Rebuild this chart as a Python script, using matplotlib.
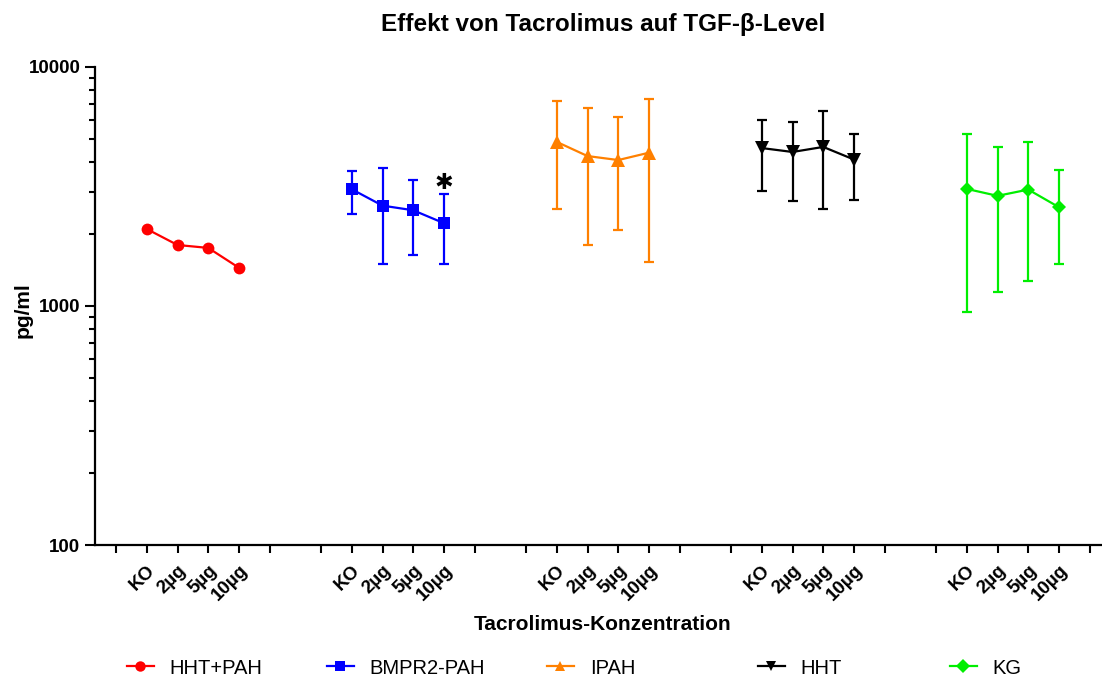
import numpy as np
import matplotlib
matplotlib.use("Agg")
import matplotlib.pyplot as plt
from matplotlib.lines import Line2D
from matplotlib.ticker import LogLocator, NullFormatter, FixedLocator, FixedFormatter

plt.rcParams["font.family"] = ["Liberation Sans", "DejaVu Sans"]

groups = ["HHT+PAH", "BMPR2-PAH", "IPAH", "HHT", "KG"]
doses = ["KO", "2µg", "5µg", "10µg"]
colors = ["#ff0000", "#0000ff", "#ff8000", "#000000", "#00ee00"]
markers = ["o", "s", "^", "v", "D"]

# mean values (pg/ml)
hht_pah_mean = [2100, 1800, 1750, 1445]
bmpr2_mean = [3080, 2630, 2515, 2220]
ipah_mean = [4860, 4240, 4080, 4380]
hht_mean = [4580, 4410, 4630, 4100]
kg_mean = [3090, 2890, 3070, 2590]

# upper / lower ends of the error bars
hht_pah_hi = [None] * 4
hht_pah_lo = [None] * 4
bmpr2_hi = [3680, 3770, 3375, 2935]
bmpr2_lo = [2435, 1500, 1635, 1500]
ipah_hi = [7230, 6760, 6180, 7350]
ipah_lo = [2545, 1800, 2080, 1530]
hht_hi = [6000, 5885, 6565, 5230]
hht_lo = [3035, 2740, 2555, 2785]
kg_hi = [5245, 4640, 4840, 3700]
kg_lo = [945, 1140, 1270, 1500]

means = [hht_pah_mean, bmpr2_mean, ipah_mean, hht_mean, kg_mean]
highs = [hht_pah_hi, bmpr2_hi, ipah_hi, hht_hi, kg_hi]
lows = [hht_pah_lo, bmpr2_lo, ipah_lo, hht_lo, kg_lo]

GROUP_STEP = 205 / 30.75  # distance between group starts in tick units

fig = plt.figure(figsize=(11.02, 6.82), dpi=100)
ax = fig.add_axes([95 / 1102, 1 - 545 / 682, 1 - 95 / 1102, (545 - 67) / 682])

tick_pos = []
label_pos = []
label_txt = []
for gi, (name, col, mk) in enumerate(zip(groups, colors, markers)):
    base = gi * GROUP_STEP
    tick_pos += [base + k for k in range(6)]
    xs = np.array([base + 1 + k for k in range(len(doses))])
    label_pos += list(xs)
    label_txt += doses
    y = np.array(means[gi], dtype=float)
    ms = 8.5 if mk in ("o", "s") else 9.5
    if mk == "D":
        ms = 7
    if highs[gi][0] is not None:
        hi = np.array(highs[gi], dtype=float)
        lo = np.array(lows[gi], dtype=float)
        ax.errorbar(xs, y, yerr=[y - lo, hi - y], fmt="none", ecolor=col,
                    elinewidth=1.6, capsize=3.6, capthick=1.6, zorder=2)
    ax.plot(xs, y, color=col, marker=mk, markersize=ms, linewidth=1.6,
            markeredgewidth=0, zorder=3)

# significance mark on BMPR2-PAH 10µg
ax.text(1 * GROUP_STEP + 4, 3270, "\u2731", ha="center", va="center",
        fontsize=16, color="black", family="DejaVu Sans")

ax.set_yscale("log")
ax.set_ylim(100, 10000)
ax.set_xlim(-21 / 30.75, (1102 - 116) / 30.75)
ax.yaxis.set_major_locator(FixedLocator([100, 1000, 10000]))
ax.yaxis.set_major_formatter(FixedFormatter(["100", "1000", "10000"]))
ax.yaxis.set_minor_locator(LogLocator(base=10, subs=np.arange(2, 10)))
ax.yaxis.set_minor_formatter(NullFormatter())

ax.xaxis.remove_overlapping_locs = False
ax.set_xticks(tick_pos)
ax.set_xticklabels([])
ax.set_xticks(label_pos, minor=True)
ax.set_xticklabels(label_txt, minor=True, rotation=45, ha="right",
                   va="top", rotation_mode="anchor", fontsize=13.5,
                   fontweight="bold")
ax.tick_params(axis="x", which="minor", length=0, pad=12)
ax.tick_params(axis="x", which="major", length=6, width=1.5)
ax.tick_params(axis="y", which="major", length=7, width=1.5, labelsize=13.5)
ax.tick_params(axis="y", which="minor", length=4, width=1.5)
for lab in ax.get_yticklabels():
    lab.set_fontweight("bold")

for side in ("top", "right"):
    ax.spines[side].set_visible(False)
for side in ("left", "bottom"):
    ax.spines[side].set_linewidth(1.6)

fig.text(23 / 1102, 1 - 310 / 682, "pg/ml", ha="center", va="center",
         rotation=90, fontsize=15, fontweight="bold")
fig.text(603 / 1102, 1 - 624 / 682, "Tacrolimus-Konzentration", ha="center",
         va="center", fontsize=15, fontweight="bold")
fig.text(603 / 1102, 1 - 24 / 682, "Effekt von Tacrolimus auf TGF-β-Level",
         ha="center", va="center", fontsize=17.5, fontweight="bold")

legend_x = [140, 340, 560, 771, 963]
for name, col, mk, lx in zip(groups, colors, markers, legend_x):
    h = Line2D([], [], color=col, marker=mk, markersize=7.5, linewidth=1.6,
               markeredgewidth=0)
    leg = fig.legend([h], [name], loc="center left", frameon=False,
                     bbox_to_anchor=((lx - 13.5) / 1102, 1 - 668 / 682),
                     fontsize=14.5, handlelength=1.35, handletextpad=0.8,
                     borderaxespad=0, borderpad=0)

fig.savefig("out.png", dpi=100)
